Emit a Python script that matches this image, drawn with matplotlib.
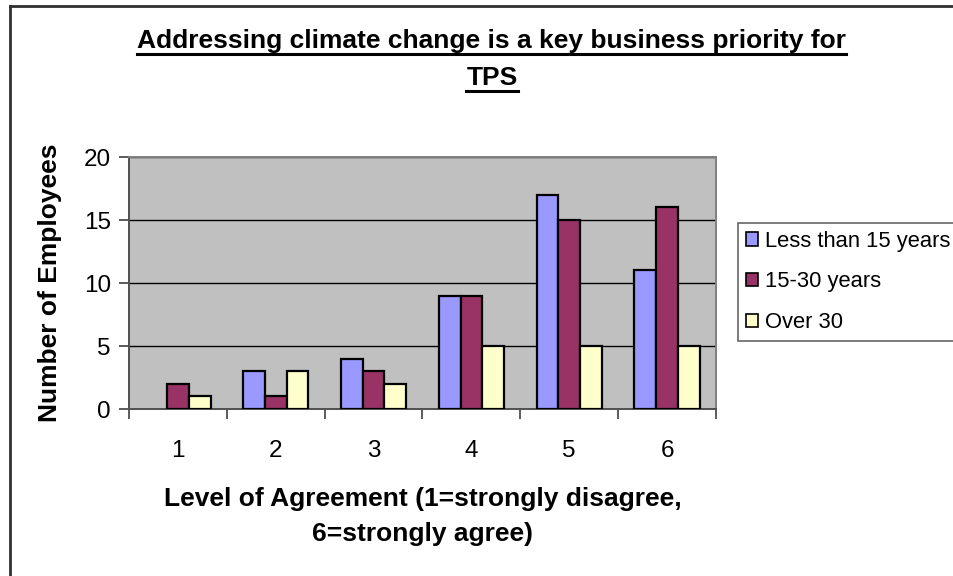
import numpy as np
import matplotlib.pyplot as plt
from matplotlib.lines import Line2D

plt.rcParams['font.family'] = ['Liberation Sans', 'DejaVu Sans']

# survey counts by level of agreement and length of service
levels = ['1', '2', '3', '4', '5', '6']
less_15 = [0, 3, 4, 9, 17, 11]
yrs_15_30 = [2, 1, 3, 9, 15, 16]
over_30 = [1, 3, 2, 5, 5, 5]
series_names = ['Less than 15 years', '15-30 years', 'Over 30']
colors = ['#9999FF', '#993366', '#FFFFCC']

fig = plt.figure(figsize=(9.54, 5.76), dpi=100)
fig.patch.set_facecolor('white')
ax = fig.add_axes([0.1352, 0.2899, 0.6153, 0.4375])
ax.set_facecolor('#C0C0C0')

x = np.arange(len(levels))
w = 1 / 4.5
for i, vals in enumerate([less_15, yrs_15_30, over_30]):
    vals = np.array(vals, dtype=float)
    ax.bar(x + (i - 1) * w, vals, width=w, color=colors[i],
           edgecolor=['black' if v > 0 else 'none' for v in vals],
           linewidth=1.6, label=series_names[i], zorder=3)

ax.set_xlim(-0.5, len(levels) - 0.5)
ax.set_ylim(0, 20)
ax.set_yticks([0, 5, 10, 15, 20])
ax.yaxis.grid(True, color='black', linewidth=1, zorder=1)
ax.set_axisbelow(True)

# category ticks sit on the boundaries between groups
ax.set_xticks(x)
ax.set_xticklabels(levels)
ax.set_xticks(np.arange(-0.5, len(levels), 1), minor=True)
ax.tick_params(axis='x', which='major', length=0, pad=22, labelsize=17.5)
ax.tick_params(axis='x', which='minor', length=7, width=1.2, color='#404040', direction='out')
ax.tick_params(axis='y', length=7, width=1.2, color='#404040', pad=6, labelsize=17.5)

for side in ['left', 'bottom']:
    ax.spines[side].set_color('#505050')
    ax.spines[side].set_linewidth(1.4)
for side in ['top', 'right']:
    ax.spines[side].set_color('#808080')
    ax.spines[side].set_linewidth(1.4)

ax.set_ylabel('Number of Employees', fontsize=19, fontweight='bold', labelpad=16)
ax.set_xlabel('Level of Agreement (1=strongly disagree,\n6=strongly agree)',
              fontsize=19, fontweight='bold', labelpad=18, linespacing=1.6)

leg = ax.legend(loc='upper left', bbox_to_anchor=(1.0375, 0.738), fontsize=15.8,
                frameon=True, fancybox=False, edgecolor='#404040',
                handlelength=0.55, handleheight=0.55, handletextpad=0.35,
                labelspacing=0.9, borderpad=0.35, borderaxespad=0)
leg.get_frame().set_linewidth(1.2)
for h in leg.legend_handles:
    h.set_edgecolor('black')
    h.set_linewidth(1.2)

# title lines with underline
title_lines = ['Addressing climate change is a key business priority for', 'TPS']
title_base = [1 - 48 / 576, 1 - 85 / 576]
title_x = 492 / 954
renderer = fig.canvas.get_renderer()
for txt, ty in zip(title_lines, title_base):
    t = fig.text(title_x, ty, txt, ha='center', va='baseline', fontsize=19, fontweight='bold')
    bb = t.get_window_extent(renderer=renderer).transformed(fig.transFigure.inverted())
    uy = ty - 6 / 576
    fig.add_artist(Line2D([bb.x0, bb.x1], [uy, uy], color='black', linewidth=2.2))

# chart frame
fig.add_artist(Line2D([10 / 954, 10 / 954], [0, 1 - 6 / 576], color='#303030', linewidth=2))
fig.add_artist(Line2D([10 / 954, 1], [1 - 6 / 576, 1 - 6 / 576], color='#303030', linewidth=2))

fig.savefig('out.png', dpi=100)
